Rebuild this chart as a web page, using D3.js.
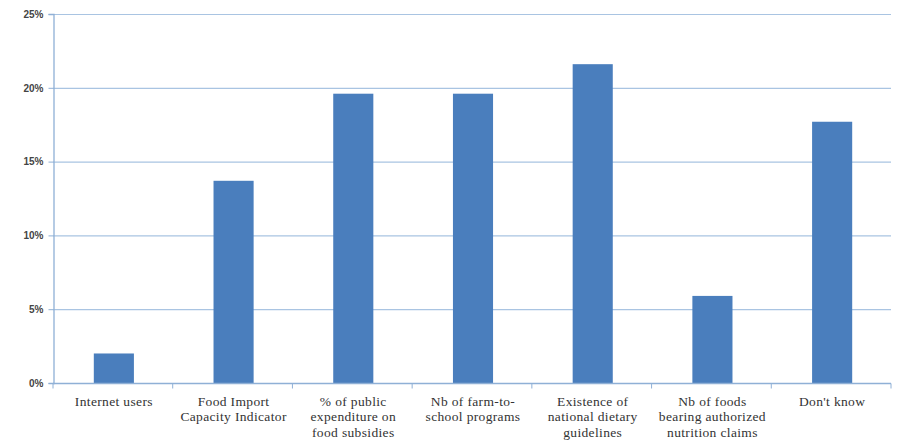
<!DOCTYPE html>
<html><head><meta charset="utf-8">
<script src="https://cdn.jsdelivr.net/npm/d3@7"></script>
<style>body{margin:0;background:#fff}</style>
</head><body>
<svg id="c" width="899" height="445"></svg>
<script>
const categories = [
  ["Internet users"],
  ["Food Import", "Capacity Indicator"],
  ["% of public", "expenditure on", "food subsidies"],
  ["Nb of farm-to-", "school programs"],
  ["Existence of", "national dietary", "guidelines"],
  ["Nb of foods", "bearing authorized", "nutrition claims"],
  ["Don't know"]
];
const values = [2.0, 13.7, 19.6, 19.6, 21.6, 5.9, 17.7];
const yTicks = [0, 5, 10, 15, 20, 25];

const svg = d3.select("#c");
const m = {left: 53, right: 8, top: 14, bottom: 62};
const W = 899, H = 445;
const x = d3.scaleBand().domain(d3.range(categories.length)).range([m.left, W - m.right]).paddingInner(0.665).paddingOuter(0.3325);
const y = d3.scaleLinear().domain([0, 25]).range([H - m.bottom, m.top]);

// gridlines
svg.append("g").selectAll("line").data(yTicks.filter(d => d > 0)).join("line")
  .attr("x1", m.left).attr("x2", W - m.right)
  .attr("y1", d => y(d) + 0.5).attr("y2", d => y(d) + 0.5)
  .attr("stroke", "#a9c4e2").attr("stroke-width", 1.2);

// bars
svg.append("g").selectAll("rect").data(values).join("rect")
  .attr("x", (d, i) => x(i) + 1).attr("width", x.bandwidth())
  .attr("y", d => y(d)).attr("height", d => y(0) - y(d))
  .attr("fill", "#4a7ebd");

// y axis
const ya = svg.append("g").attr("transform", `translate(${m.left + 0.5},0)`)
  .call(d3.axisLeft(y).tickValues(yTicks).tickFormat(d => d + "%").tickSize(5).tickPadding(5));
ya.select(".domain").attr("stroke", "#8fb0d6").attr("stroke-width", 1.3);
ya.selectAll(".tick line").attr("stroke", "#8fb0d6");
ya.selectAll("text").attr("font-family", "Liberation Sans, Arial, sans-serif").attr("font-size", 10).attr("fill", "#444").attr("font-weight", "bold");

// x axis
const step = x.step();
const xa = svg.append("g").attr("transform", `translate(0,${y(0) + 0.5})`);
xa.append("line").attr("x1", m.left).attr("x2", W - m.right).attr("stroke", "#8fb0d6").attr("stroke-width", 1.3);
xa.selectAll("line.tk").data(d3.range(categories.length + 1)).join("line").attr("class", "tk")
  .attr("x1", i => m.left + i * step).attr("x2", i => m.left + i * step)
  .attr("y1", 0).attr("y2", 5).attr("stroke", "#8fb0d6");
const lab = xa.selectAll("text").data(categories).join("text")
  .attr("text-anchor", "middle")
  .attr("font-family", "Liberation Serif, Times New Roman, serif")
  .attr("font-size", 13.5).attr("letter-spacing", 0.35).attr("fill", "#333");
lab.each(function(lines, i) {
  const t = d3.select(this);
  lines.forEach((s, j) => {
    t.append("tspan").attr("x", x(i) + x.bandwidth() / 2 + 1).attr("y", 22 + j * 15.7).text(s);
  });
});
</script>
</body></html>
